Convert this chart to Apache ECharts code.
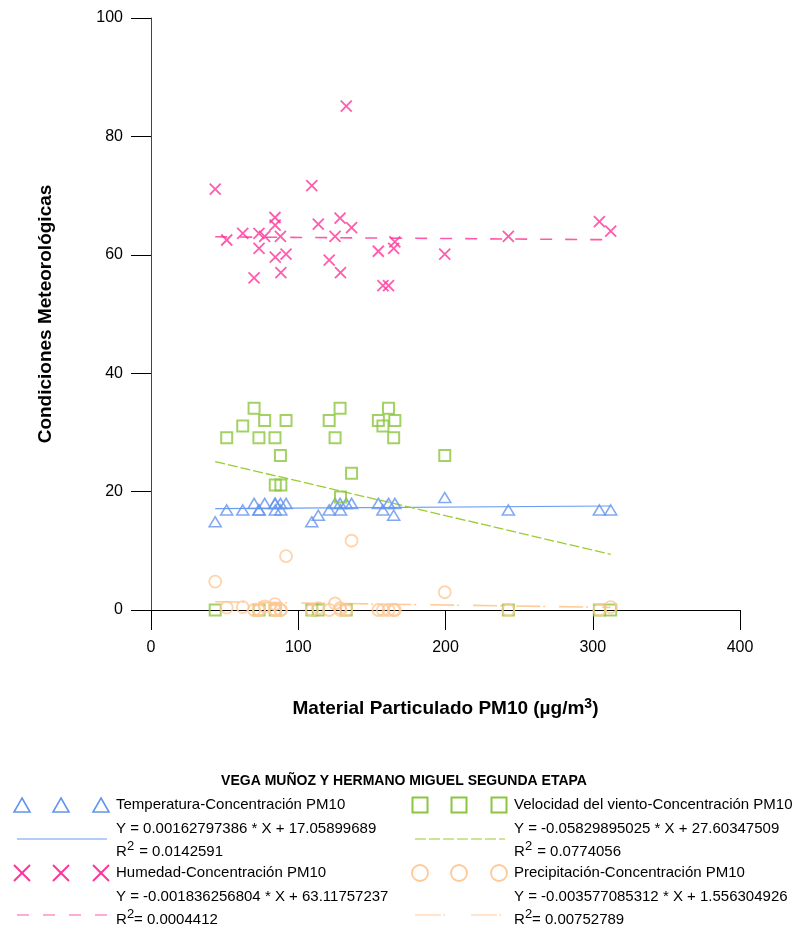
<!DOCTYPE html>
<html>
<head>
<meta charset="utf-8">
<script src="https://cdn.jsdelivr.net/npm/echarts@6/dist/echarts.min.js"></script>
<style>
  html, body { margin: 0; padding: 0; background: #fff; }
  #chart { width: 809px; height: 931px; }
</style>
</head>
<body>
<div id="chart"></div>
<script>
// PM10 concentration for each sampling day (µg/m3)
const pm10 = [43.6, 51.4, 62.3, 70.0, 73.3, 73.4, 77.2, 84.2, 84.3, 84.4, 87.9, 88.2, 91.7, 109.2, 113.6,
              121.0, 125.0, 128.4, 128.7, 132.6, 136.2, 154.4, 157.5, 161.3, 164.8, 165.6, 199.5, 242.7, 304.5, 312.2];
// Meteorological conditions on the same days
const temperatura = [14.9, 16.9, 16.9, 18.0, 16.9, 16.9, 18.0, 18.0, 18.0, 16.9, 18.0, 16.9, 18.0, 14.9, 16.0,
                     16.9, 18.0, 18.0, 16.9, 18.0, 18.0, 18.0, 16.9, 18.0, 16.0, 18.0, 19.0, 16.9, 16.9, 16.9];
const humedad = [71.1, 62.5, 63.6, 56.1, 63.6, 61.1, 63.1, 66.3, 65.0, 59.6, 63.1, 57.0, 60.1, 71.7, 65.2,
                 59.1, 63.1, 66.2, 57.0, 85.1, 64.6, 60.6, 54.8, 54.8, 61.1, 62.2, 60.1, 63.1, 65.6, 64.0];
const viento = [0, 29.1, 31.1, 34.1, 29.1, 0, 32.0, 29.1, 0, 21.1, 26.1, 21.1, 32.0, 0, 0,
                32.0, 29.1, 34.1, 19.1, 0, 23.1, 32.0, 31.1, 34.1, 29.1, 32.0, 26.1, 0, 0, 0];
const precipitacion = [4.8, 0.4, 0.5, 0, 0, 0, 0.6, 1.0, 0, 0, 0, 0, 9.1, 0, 0.3,
                       0, 1.1, 0.3, 0, 0, 11.7, 0, 0, 0, 0, 0, 3.0, 0, 0, 0.5];

// Linear fits (slope, intercept, R²) as reported in the legend
const fitSlope = [0.00162797386, -0.001836256804, -0.05829895025, -0.003577085312];
const fitIntercept = [17.05899689, 63.11757237, 27.60347509, 1.556304926];
const fitR2 = ['0.0142591', '0.0004412', '0.0774056', '0.00752789'];
const seriesNames = ['Temperatura-Concentración PM10', 'Humedad-Concentración PM10',
                     'Velocidad del viento-Concentración PM10', 'Precipitación-Concentración PM10'];

const xTicks = [0, 100, 200, 300, 400];
const yTicks = [0, 20, 40, 60, 80, 100];

const colors = ['#6495ED', '#FF3399', '#8CC63F', '#FFC896'];
const lineColors = ['#6a9cf2', '#ff5aa8', '#9acd32', '#ffcc99'];
const FONT = '"Liberation Sans", Arial, sans-serif';

const pairs = vals => pm10.map((x, i) => [x, vals[i]]);
const xMin = Math.min(...pm10), xMax = Math.max(...pm10);
const fitLine = k => [[xMin, fitIntercept[k] + fitSlope[k] * xMin], [xMax, fitIntercept[k] + fitSlope[k] * xMax]];

const crossPath = 'path://M0,0L10,10M10,0L0,10';

const hollow = (c, w) => ({ color: 'rgba(0,0,0,0)', borderColor: c, borderWidth: w });

const series = [
  { name: seriesNames[0], type: 'scatter', data: pairs(temperatura), symbol: 'triangle', symbolSize: [12, 10],
    itemStyle: hollow(colors[0], 1.6), z: 3 },
  { name: seriesNames[1], type: 'scatter', data: pairs(humedad), symbol: crossPath, symbolSize: 11,
    itemStyle: hollow(colors[1], 1.8), z: 3 },
  { name: seriesNames[2], type: 'scatter', data: pairs(viento), symbol: 'rect', symbolSize: 11,
    itemStyle: hollow(colors[2], 2), z: 3 },
  { name: seriesNames[3], type: 'scatter', data: pairs(precipitacion), symbol: 'circle', symbolSize: 12,
    itemStyle: hollow(colors[3], 1.8), z: 4 },
  { type: 'line', data: fitLine(0), symbol: 'none', lineStyle: { color: lineColors[0], width: 1.2, type: 'solid' }, z: 2 },
  { type: 'line', data: fitLine(1), symbol: 'none', lineStyle: { color: lineColors[1], width: 1.6, type: [12, 13] }, z: 2 },
  { type: 'line', data: fitLine(2), symbol: 'none', lineStyle: { color: lineColors[2], width: 1.3, type: [10, 3] }, z: 2 },
  { type: 'line', data: fitLine(3), symbol: 'none', lineStyle: { color: lineColors[3], width: 1.6, type: [24, 3, 2, 14] }, z: 2 }
];

// ---- legend block below the plot ----
const g = [];
const txt = (x, y, text, extra) => g.push({ type: 'text', x, y,
  style: Object.assign({ text, font: '15px ' + FONT, fill: '#000', verticalAlign: 'middle', align: 'left' }, extra || {}) });

g.push({ type: 'text', x: 404, y: 781, style: { text: 'VEGA MUÑOZ Y HERMANO MIGUEL SEGUNDA ETAPA',
  font: 'bold 14px ' + FONT, fill: '#000', align: 'center', verticalAlign: 'middle' } });

const legendSymbol = (k, cx, cy) => {
  const c = colors[k];
  if (k === 0) g.push({ type: 'polygon', shape: { points: [[cx, cy - 7], [cx + 8, cy + 7], [cx - 8, cy + 7]] },
    style: { fill: 'none', stroke: c, lineWidth: 1.6 } });
  if (k === 1) {
    g.push({ type: 'line', shape: { x1: cx - 8, y1: cy - 8, x2: cx + 8, y2: cy + 8 }, style: { stroke: c, lineWidth: 2 } });
    g.push({ type: 'line', shape: { x1: cx + 8, y1: cy - 8, x2: cx - 8, y2: cy + 8 }, style: { stroke: c, lineWidth: 2 } });
  }
  if (k === 2) g.push({ type: 'rect', shape: { x: cx - 7.5, y: cy - 7.5, width: 15, height: 15 },
    style: { fill: 'none', stroke: c, lineWidth: 2 } });
  if (k === 3) g.push({ type: 'circle', shape: { cx, cy, r: 8 }, style: { fill: 'none', stroke: c, lineWidth: 1.8 } });
};

const legendEntry = (k, col, row) => {
  const x0 = col === 0 ? 0 : 398;
  const y0 = row === 0 ? 805 : 873;
  [22, 61, 101].forEach(dx => legendSymbol(k, x0 + dx, y0));
  const tx = x0 + 116;
  txt(tx, y0, seriesNames[k]);
  const sign = fitIntercept[k] >= 0 ? '+' : '-';
  txt(tx, y0 + 24, 'Y = ' + fitSlope[k] + ' * X ' + sign + ' ' + Math.abs(fitIntercept[k]));
  txt(tx, y0 + 47, 'R');
  txt(tx + 11, y0 + 41, '2', { font: '13px ' + FONT });
  txt(tx + (row === 0 ? 19 : 18), y0 + 47, (row === 0 ? ' = ' : '= ') + fitR2[k]);
  // fitted-line sample
  const ly = row === 0 ? y0 + 34 : y0 + 42;
  const ls = [lineColors[k], k === 1 ? [12, 14] : k === 2 ? [11, 3] : k === 3 ? [26, 2, 2, 26] : null];
  g.push({ type: 'line', shape: { x1: x0 + 17, y1: ly, x2: x0 + 107, y2: ly },
    style: { stroke: ls[0], lineWidth: 1.2, lineDash: ls[1] } });
};
legendEntry(0, 0, 0);
legendEntry(1, 0, 1);
legendEntry(2, 1, 0);
legendEntry(3, 1, 1);

const chart = echarts.init(document.getElementById('chart'), null, { renderer: 'canvas' });
chart.setOption({
  animation: false,
  backgroundColor: '#fff',
  textStyle: { fontFamily: FONT },
  grid: { left: 151, top: 18, right: 69, bottom: 321, containLabel: false },
  xAxis: {
    type: 'value', min: xTicks[0], max: xTicks[xTicks.length - 1], interval: 100,
    name: '{t|Material Particulado PM10 (µg/m}{s|3}{t|)}',
    nameLocation: 'middle', nameGap: 87,
    nameTextStyle: { rich: {
      t: { fontSize: 19, fontWeight: 'bold', fontFamily: FONT, color: '#000', lineHeight: 24 },
      s: { fontSize: 14, fontWeight: 'bold', fontFamily: FONT, color: '#000', verticalAlign: 'top', lineHeight: 15, padding: [0, 0, 8, 0] }
    } },
    axisLine: { onZero: false, lineStyle: { color: '#000', width: 1 } },
    axisTick: { length: 20, lineStyle: { color: '#000' } },
    axisLabel: { color: '#000', fontSize: 16, margin: 30, fontFamily: FONT },
    splitLine: { show: false }
  },
  yAxis: {
    type: 'value', min: yTicks[0], max: yTicks[yTicks.length - 1], interval: 20,
    name: 'Condiciones Meteorológicas', nameLocation: 'middle', nameGap: 96,
    nameTextStyle: { fontSize: 19, fontWeight: 'bold', color: '#000', fontFamily: FONT },
    axisLine: { show: true, onZero: false, lineStyle: { color: '#444', width: 1 } },
    axisTick: { show: true, length: 20, lineStyle: { color: '#000' } },
    axisLabel: { color: '#000', fontSize: 16, margin: 28, fontFamily: FONT },
    splitLine: { show: false }
  },
  series,
  graphic: g
});
</script>
</body>
</html>
